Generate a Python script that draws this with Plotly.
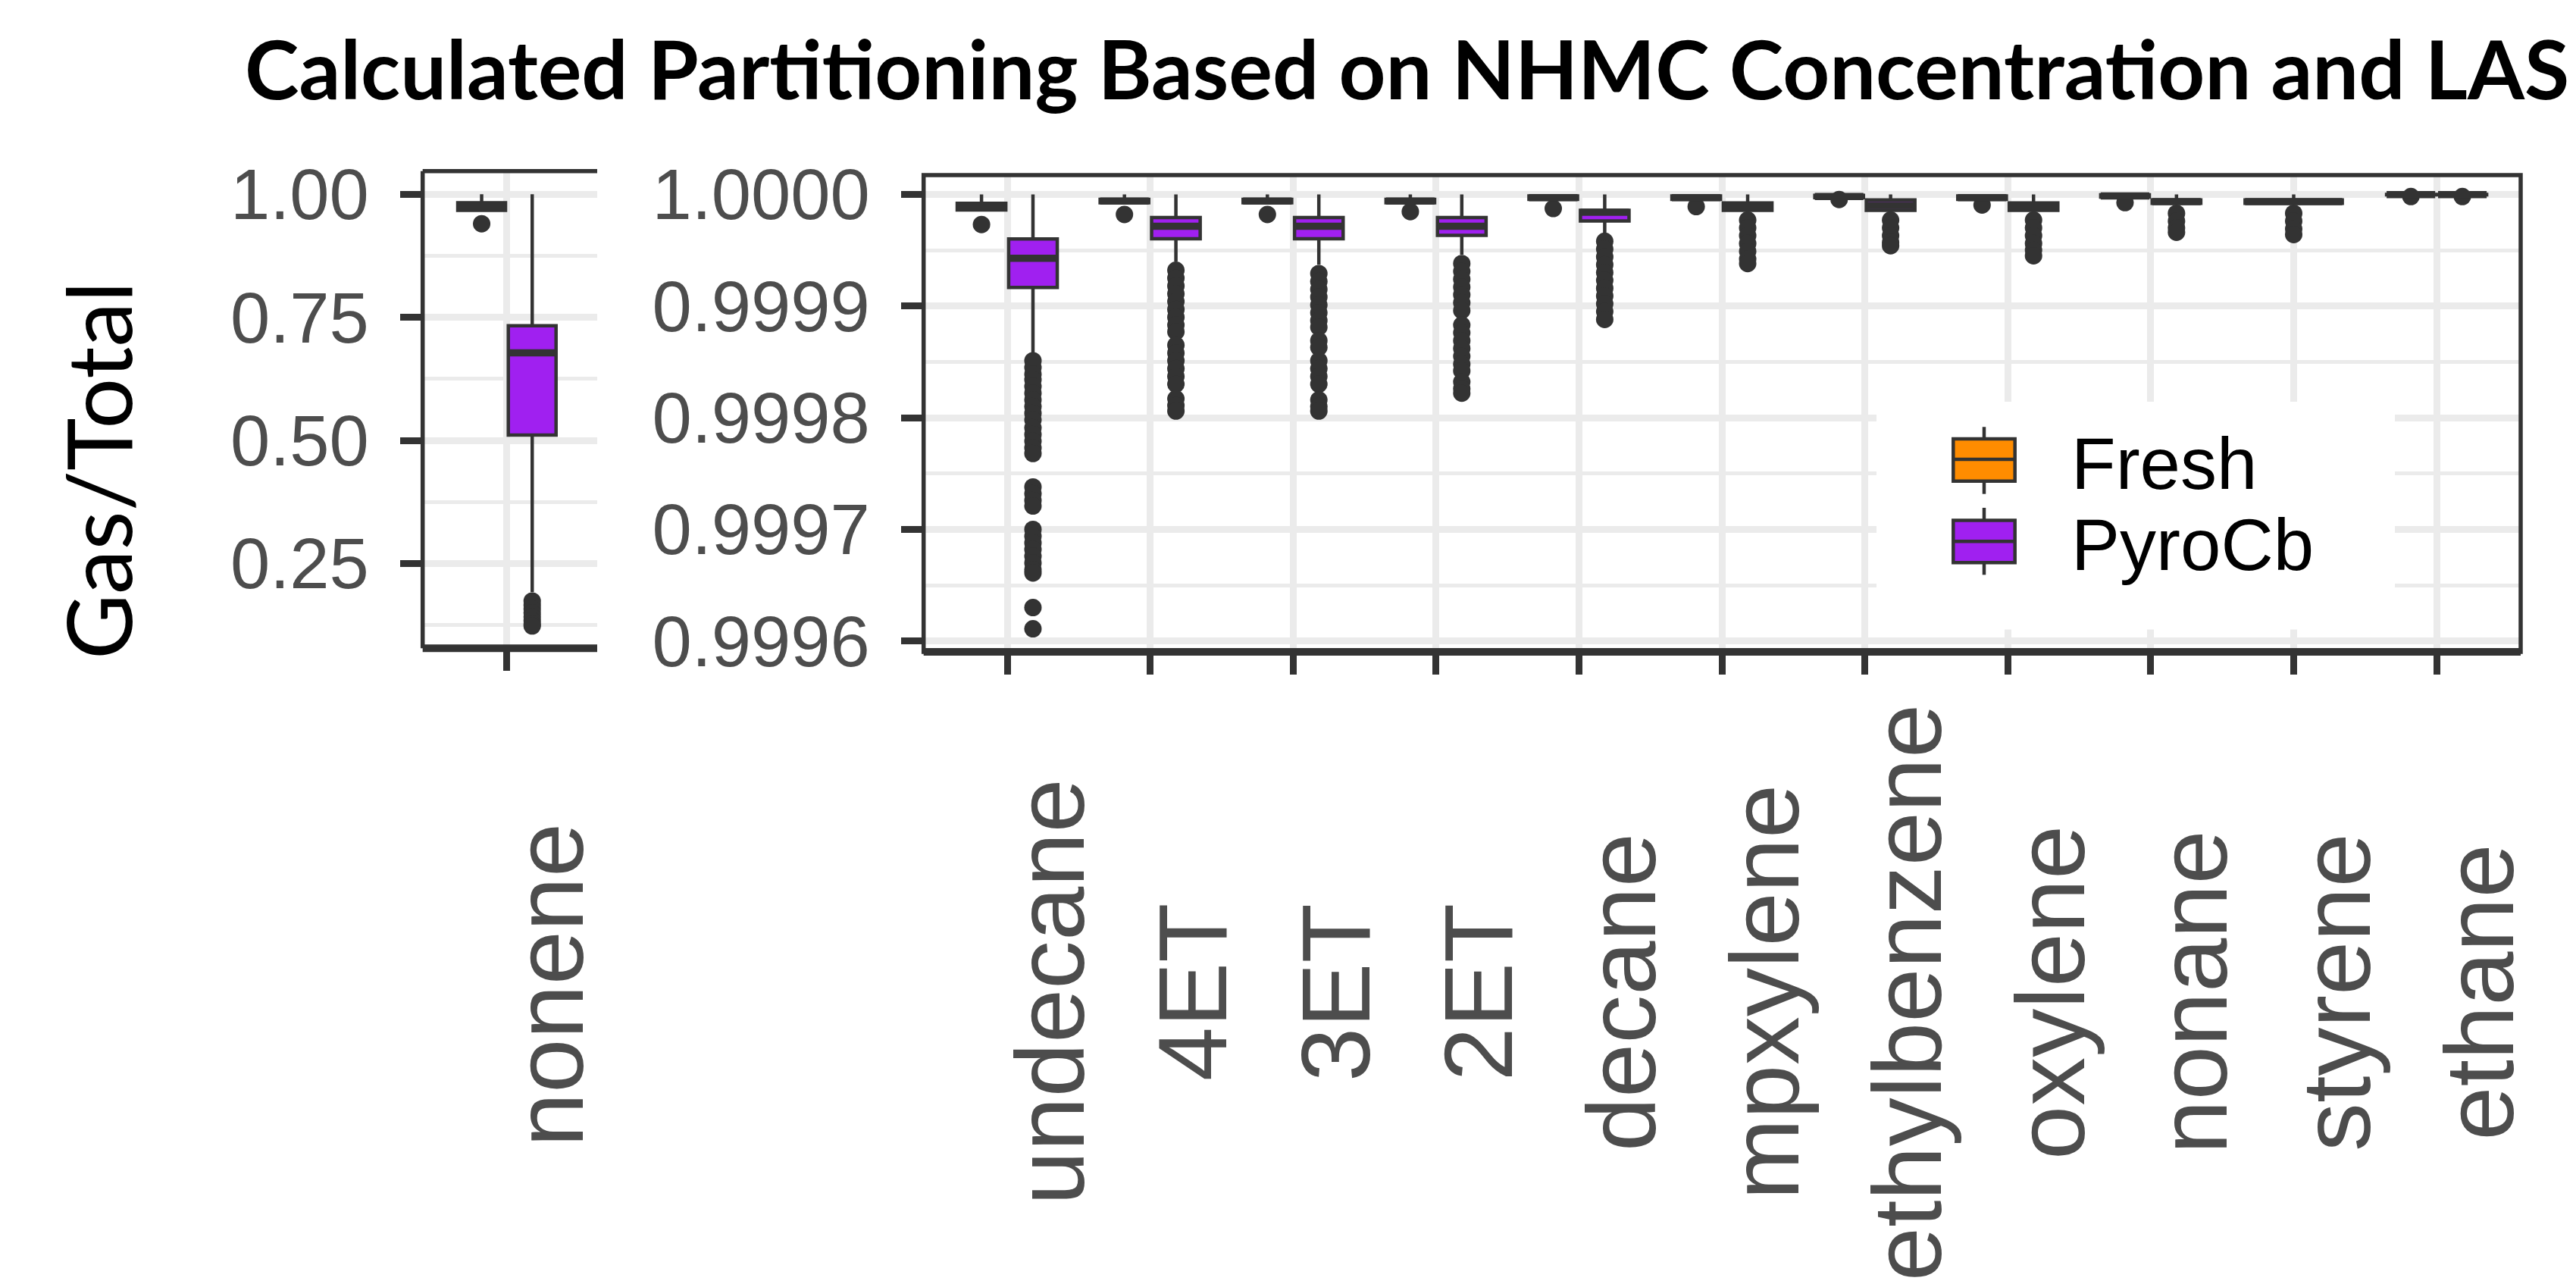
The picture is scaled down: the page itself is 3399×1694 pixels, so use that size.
import plotly.graph_objects as go

W, H = 3399, 1694

# ---------------- data ----------------
title_text = "Calculated Partitioning Based on NHMC Concentration and LAS"
y_title = "Gas/Total"
groups = ["Fresh", "PyroCb"]

left_categories = ["nonene"]
left_fresh_upper = [1.0]
left_fresh_q3 = [0.9827]
left_fresh_median = [0.975]
left_fresh_q1 = [0.9672]
left_fresh_lower = [0.9672]
left_fresh_outliers = [[0.940]]

left_pyro_upper = [1.0]
left_pyro_q3 = [0.733]
left_pyro_median = [0.678]
left_pyro_q1 = [0.511]
left_pyro_lower = [0.192]
left_pyro_outliers = [[0.174, 0.166, 0.158, 0.150, 0.142, 0.134, 0.127, 0.1235]]

right_categories = ["undecane", "4ET", "3ET", "2ET", "decane", "mpxylene",
                    "ethylbenzene", "oxylene", "nonane", "styrene", "ethane"]

fresh_upper = [1.0, 1.0, 1.0, 1.0, 1.0, 1.0, 1.0, 1.0, 1.0, None, 1.0]
fresh_q3 = [0.9999920, 0.9999955, 0.9999955, 0.9999955, 0.9999985, 0.9999985,
            0.9999990, 0.9999985, 0.9999995, None, 1.0]
fresh_median = [0.9999890, 0.9999940, 0.9999940, 0.9999940, 0.9999970, 0.9999970,
                0.9999980, 0.9999970, 0.9999985, None, 0.9999998]
fresh_q1 = [0.9999860, 0.9999925, 0.9999925, 0.9999925, 0.9999955, 0.9999955,
            0.9999970, 0.9999955, 0.9999975, None, 0.9999995]
fresh_lower = [0.9999860, 0.9999925, 0.9999925, 0.9999925, 0.9999955, 0.9999955,
               0.9999970, 0.9999955, 0.9999975, None, 0.9999995]
fresh_outliers = [[0.9999730], [0.9999820], [0.9999820], [0.9999845], [0.9999873],
                  [0.9999890], [0.9999954], [0.9999905], [0.9999926], [], [0.9999980]]

pyro_upper = [1.0, 1.0, 1.0, 1.0, 1.0, 1.0, 1.0, 1.0, 1.0, 1.0, 1.0]
pyro_q3 = [0.9999600, 0.9999792, 0.9999792, 0.9999792, 0.9999857, 0.9999923,
           0.9999950, 0.9999923, 0.9999950, 0.9999950, 1.0]
pyro_median = [0.9999428, 0.9999714, 0.9999714, 0.9999714, 0.9999840, 0.9999890,
               0.9999900, 0.9999890, 0.9999935, 0.9999935, 0.9999998]
pyro_q1 = [0.9999166, 0.9999602, 0.9999602, 0.9999633, 0.9999761, 0.9999856,
           0.9999856, 0.9999856, 0.9999920, 0.9999920, 0.9999995]
pyro_lower = [0.9998580, 0.9999397, 0.9999370, 0.9999460, 0.9999652, 0.9999856,
              0.9999856, 0.9999856, 0.9999920, 0.9999920, 0.9999995]
pyro_outliers = [
    [0.999851, 0.999845, 0.999839, 0.999834, 0.999828, 0.999822, 0.999816, 0.999810,
     0.999804, 0.999798, 0.999791, 0.999785, 0.999779, 0.999773, 0.999768,
     0.999738, 0.999732, 0.999726, 0.999721,
     0.999700, 0.999694, 0.999688, 0.999682, 0.999676, 0.999670, 0.999664, 0.999661,
     0.999630, 0.999611],
    [0.999932, 0.999925, 0.999918, 0.999911, 0.999904, 0.999897, 0.999890, 0.999883,
     0.999877, 0.999865, 0.999858, 0.999851, 0.999844, 0.999837, 0.999830,
     0.999817, 0.999811, 0.999806],
    [0.999929, 0.999922, 0.999915, 0.999908, 0.999901, 0.999894, 0.999887, 0.999881,
     0.999869, 0.999863, 0.999851, 0.999844, 0.999837, 0.999830,
     0.999816, 0.999810, 0.999806],
    [0.999938, 0.999931, 0.999924, 0.999917, 0.999910, 0.999903, 0.999896,
     0.999883, 0.999876, 0.999869, 0.999862, 0.999855, 0.999848, 0.999842,
     0.999832, 0.999826, 0.999822],
    [0.999958, 0.999951, 0.999944, 0.999937, 0.999930, 0.999923, 0.999916, 0.999909,
     0.999902, 0.999895, 0.999888],
    [0.999977, 0.999970, 0.999963, 0.999956, 0.999949, 0.999942, 0.999938],
    [0.999977, 0.999970, 0.999963, 0.999957, 0.999954],
    [0.999977, 0.999970, 0.999963, 0.999956, 0.999950, 0.999945],
    [0.999983, 0.999976, 0.999970, 0.999966],
    [0.999983, 0.999976, 0.999969, 0.999964],
    [0.999998],
]

left_yticks = [0.25, 0.50, 0.75, 1.00]
left_yticktext = ["0.25", "0.50", "0.75", "1.00"]
left_yminor = [0.125, 0.375, 0.625, 0.875]
right_yticks = [0.9996, 0.9997, 0.9998, 0.9999, 1.0000]
right_yticktext = ["0.9996", "0.9997", "0.9998", "0.9999", "1.0000"]
right_yminor = [0.99955, 0.99965, 0.99975, 0.99985, 0.99995]

# ---------------- style ----------------
FRESH_COL = "#FF8C00"
PYRO_COL = "#A020F0"
DARK = "#333333"
GRID = "#EBEBEB"
TICKFONT = dict(family="Liberation Sans, Arial", size=94, color="#4D4D4D")
XLABFONT = dict(family="Liberation Sans, Arial", size=128, color="#4D4D4D")
BOX_LW = 4.5
MED_LW = 9.5
OFF = 0.18
BW = 0.34
WIDE_BW = 0.68

def fx(p):
    return p / W

def fy(p):
    return 1 - p / H

fig = go.Figure()


def add_box(x, q1, med, q3, lo, up, color, width, xa, ya):
    fig.add_trace(go.Box(
        x=x, q1=q1, median=med, q3=q3, lowerfence=lo, upperfence=up,
        fillcolor=color, line=dict(color=DARK, width=BOX_LW), whiskerwidth=0,
        boxpoints=False, width=width, xaxis=xa, yaxis=ya, showlegend=False,
        hoverinfo="skip"))


def add_median(x, med, width, xa, ya):
    xs, ys = [], []
    for xi, m in zip(x, med):
        xs += [xi - width / 2, xi + width / 2, None]
        ys += [m, m, None]
    fig.add_trace(go.Scatter(x=xs, y=ys, mode="lines", line=dict(color=DARK, width=MED_LW),
                             xaxis=xa, yaxis=ya, showlegend=False, hoverinfo="skip"))


def add_outliers(x, outs, xa, ya):
    xs, ys = [], []
    for xi, o in zip(x, outs):
        xs += [xi] * len(o)
        ys += o
    fig.add_trace(go.Scatter(x=xs, y=ys, mode="markers",
                             marker=dict(color=DARK, size=23, line=dict(width=0)),
                             xaxis=xa, yaxis=ya, showlegend=False, hoverinfo="skip"))


# left panel (nonene)
lx_f = [i - OFF for i in range(len(left_categories))]
lx_p = [i + OFF for i in range(len(left_categories))]
add_box(lx_f, left_fresh_q1, left_fresh_median, left_fresh_q3, left_fresh_lower,
        left_fresh_upper, FRESH_COL, BW, "x", "y")
add_box(lx_p, left_pyro_q1, left_pyro_median, left_pyro_q3, left_pyro_lower,
        left_pyro_upper, PYRO_COL, BW, "x", "y")
add_outliers(lx_f, left_fresh_outliers, "x", "y")
add_outliers(lx_p, left_pyro_outliers, "x", "y")
add_median(lx_f, left_fresh_median, BW, "x", "y")
add_median(lx_p, left_pyro_median, BW, "x", "y")

# right panel: categories with both groups are dodged, single-group ones centred
both = [i for i in range(len(right_categories)) if fresh_q1[i] is not None]
single = [i for i in range(len(right_categories)) if fresh_q1[i] is None]

def pick(arr, idx):
    return [arr[i] for i in idx]

xf = [i - OFF for i in both]
xp = [i + OFF for i in both]
xs_single = [float(i) for i in single]

add_box(xf, pick(fresh_q1, both), pick(fresh_median, both), pick(fresh_q3, both),
        pick(fresh_lower, both), pick(fresh_upper, both), FRESH_COL, BW, "x2", "y2")
add_box(xp, pick(pyro_q1, both), pick(pyro_median, both), pick(pyro_q3, both),
        pick(pyro_lower, both), pick(pyro_upper, both), PYRO_COL, BW, "x2", "y2")
add_box(xs_single, pick(pyro_q1, single), pick(pyro_median, single), pick(pyro_q3, single),
        pick(pyro_lower, single), pick(pyro_upper, single), PYRO_COL, WIDE_BW, "x2", "y2")
add_outliers(xf, pick(fresh_outliers, both), "x2", "y2")
add_outliers(xp, pick(pyro_outliers, both), "x2", "y2")
add_outliers(xs_single, pick(pyro_outliers, single), "x2", "y2")
add_median(xf, pick(fresh_median, both), BW, "x2", "y2")
add_median(xp, pick(pyro_median, both), BW, "x2", "y2")
add_median(xs_single, pick(pyro_median, single), WIDE_BW, "x2", "y2")

common_x = dict(ticks="outside", ticklen=29, tickwidth=9, tickcolor=DARK,
                showticklabels=False, showgrid=True, gridcolor=GRID, gridwidth=8.7,
                zeroline=False, showline=False, fixedrange=True)
common_y = dict(ticks="outside", ticklen=29, tickwidth=9, tickcolor=DARK,
                tickfont=TICKFONT, showgrid=True, gridcolor=GRID, gridwidth=8.7,
                zeroline=False, showline=False, fixedrange=True, ticklabelstandoff=22)

fig.update_layout(
    width=W, height=H, margin=dict(l=0, r=0, t=0, b=0),
    paper_bgcolor="white", plot_bgcolor="white", boxmode="overlay", showlegend=False,
    xaxis=dict(domain=[fx(557.7), fx(788)], range=[-0.6, 0.643], anchor="y",
               tickvals=list(range(len(left_categories))), **common_x),
    yaxis=dict(domain=[fy(861.7), fy(206.8)], range=[0.0783, 1.0469], anchor="x",
               tickvals=left_yticks, ticktext=left_yticktext,
               minor=dict(tickvals=left_yminor, showgrid=True, gridcolor=GRID, gridwidth=4.5, ticks=""),
               **common_y),
    xaxis2=dict(domain=[fx(1218.7), fx(3326)], range=[-0.585, 10.588], anchor="y2",
                tickvals=list(range(len(right_categories))), **common_x),
    yaxis2=dict(domain=[fy(866.7), fy(212.3)], range=[0.99959042, 1.0000172], anchor="x2",
                tickvals=right_yticks, ticktext=right_yticktext,
                minor=dict(tickvals=right_yminor, showgrid=True, gridcolor=GRID, gridwidth=4.5, ticks=""),
                **common_y),
)

shapes = []
# right panel border
shapes.append(dict(type="rect", xref="x2 domain", yref="y2 domain", x0=0, x1=1, y0=0, y1=1,
                   line=dict(color=DARK, width=5.5), layer="above"))
shapes.append(dict(type="line", xref="x2 domain", yref="y2 domain", x0=0, x1=1, y0=0, y1=0,
                   line=dict(color=DARK, width=10), layer="above"))
# left panel border (clipped on the right)
for (x0, y0, x1, y1, w) in [(0, 0, 0, 1, 5.5), (0, 1, 1, 1, 5.5), (0, 0, 1, 0, 10)]:
    shapes.append(dict(type="line", xref="x domain", yref="y domain", x0=x0, x1=x1, y0=y0, y1=y1,
                       line=dict(color=DARK, width=w), layer="above"))

# legend
shapes.append(dict(type="rect", xref="paper", yref="paper", x0=fx(2476), x1=fx(3160),
                   y0=fy(836), y1=fy(523.5), fillcolor="white", line=dict(width=0), layer="above"))
legend_keys = [(FRESH_COL, 574.3, 632.3, 602.4, 558, 650),
               (PYRO_COL, 686.3, 744.2, 715.0, 669, 761)]
for col, top, bot, mid, wt, wb in legend_keys:
    shapes.append(dict(type="line", xref="paper", yref="paper", x0=fx(2618), x1=fx(2618),
                       y0=fy(wb), y1=fy(wt), line=dict(color=DARK, width=BOX_LW), layer="above"))
    shapes.append(dict(type="rect", xref="paper", yref="paper", x0=fx(2577.3), x1=fx(2658.7),
                       y0=fy(bot), y1=fy(top), fillcolor=col,
                       line=dict(color=DARK, width=BOX_LW), layer="above"))
    shapes.append(dict(type="line", xref="paper", yref="paper", x0=fx(2577.3), x1=fx(2658.7),
                       y0=fy(mid), y1=fy(mid), line=dict(color=DARK, width=BOX_LW), layer="above"))

annotations = []
for name, yc in zip(groups, [608.6, 720.0]):
    annotations.append(dict(text=name, xref="paper", yref="paper", x=fx(2731), y=fy(yc),
                            xanchor="left", yanchor="middle", showarrow=False,
                            font=dict(family="Liberation Sans, Arial", size=96, color="black")))

# x category labels
for i, c in enumerate(left_categories):
    annotations.append(dict(text=c, xref="x", yref="paper", x=i, y=fy(1324), xshift=55.6,
                            xanchor="center", yanchor="middle", textangle=-90,
                            showarrow=False, font=XLABFONT))
for i, c in enumerate(right_categories):
    annotations.append(dict(text=c, xref="x2", yref="paper", x=i, y=fy(1334), xshift=55.6,
                            xanchor="center", yanchor="middle", textangle=-90,
                            showarrow=False, font=XLABFONT))

# y title and main title
annotations.append(dict(text=y_title, xref="paper", yref="paper", x=fx(129), y=fy(618),
                        xanchor="center", yanchor="middle", textangle=-90, showarrow=False,
                        font=dict(family="Lato", size=118, color="black")))
annotations.append(dict(text=title_text, xref="paper", yref="paper", x=fx(1857), y=fy(64),
                        xanchor="center", yanchor="middle", showarrow=False,
                        font=dict(family="Lato", size=108, color="black", weight="bold")))

fig.update_layout(shapes=shapes, annotations=annotations)
fig.write_html("out.html")
